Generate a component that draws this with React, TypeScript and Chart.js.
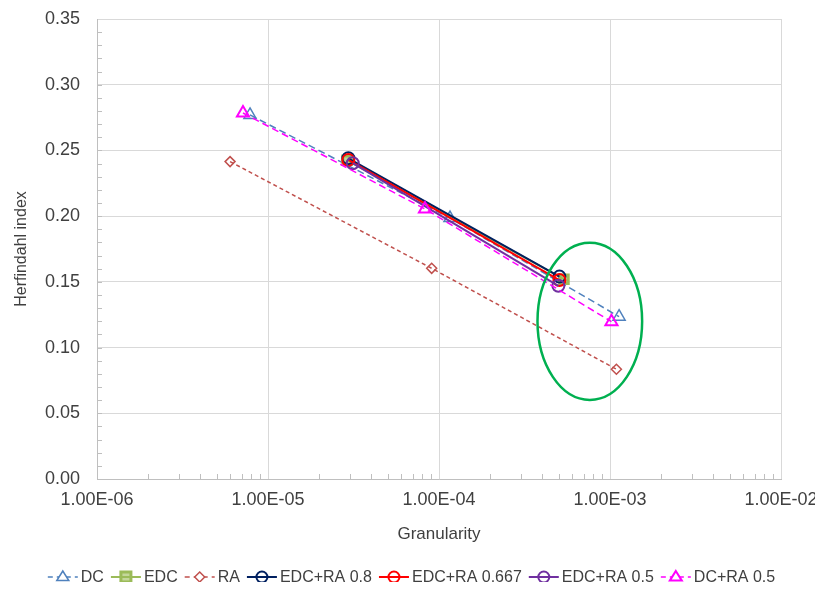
import React, { useEffect, useRef } from "react";
import { Chart, registerables } from "chart.js";
Chart.register(...registerables);

// ---- data ----
const seriesNames = ["DC", "EDC", "RA", "EDC+RA 0.8", "EDC+RA 0.667", "EDC+RA 0.5", "DC+RA 0.5"];
const dcX = [7.85e-6, 1.16e-4, 1.13e-3];
const dcY = [0.277, 0.1985, 0.1235];
const edcX = [2.9e-5, 5.38e-4];
const edcY = [0.2425, 0.152];
const raX = [6.0e-6, 9.06e-5, 1.09e-3];
const raY = [0.2415, 0.1603, 0.0835];
const edcRa08X = [2.95e-5, 5.06e-4];
const edcRa08Y = [0.244, 0.154];
const edcRa0667X = [2.95e-5, 5.06e-4];
const edcRa0667Y = [0.2428, 0.1514];
const edcRa05X = [3.13e-5, 4.99e-4];
const edcRa05Y = [0.2403, 0.147];
const dcRa05X = [7.14e-6, 8.28e-5, 1.02e-3];
const dcRa05Y = [0.2785, 0.2055, 0.1197];

const xTickValues = [1e-6, 1e-5, 1e-4, 1e-3, 1e-2];
const yMin = 0;
const yMax = 0.35;
const yStep = 0.05;
const yMinorStep = 0.01;

// highlighted region (ellipse) in data units
const ellipseCenterX = 7.62e-4;
const ellipseCenterY = 0.12;
const ellipseHalfDecades = 0.306;
const ellipseHalfY = 0.0598;

const FONT = "'Liberation Sans', Arial, sans-serif";
const TEXT = "#404040";

type Style = {
  color: string;
  dash: number[];
  width: number;
  point: string;
  radius: number;
  pw: number;
  fill: string;
};

const styles: Style[] = [
  { color: "#4F81BD", dash: [7, 4], width: 1.5, point: "triangle", radius: 7, pw: 1.5, fill: "rgba(255,255,255,0)" },
  { color: "#9BBB59", dash: [], width: 2, point: "rect", radius: 6, pw: 3, fill: "rgba(155,187,89,0.6)" },
  { color: "#C0504D", dash: [4, 3], width: 1.5, point: "rectRot", radius: 5, pw: 1.5, fill: "rgba(255,255,255,0)" },
  { color: "#002060", dash: [], width: 2, point: "circle", radius: 6, pw: 2, fill: "rgba(255,255,255,0)" },
  { color: "#FF0000", dash: [], width: 2, point: "circle", radius: 6, pw: 2, fill: "rgba(255,255,255,0)" },
  { color: "#7030A0", dash: [], width: 2, point: "circle", radius: 6, pw: 2, fill: "rgba(255,255,255,0)" },
  { color: "#FF00FF", dash: [7, 4], width: 1.5, point: "triangle", radius: 7, pw: 2, fill: "rgba(255,255,255,0)" },
];

const xs = [dcX, edcX, raX, edcRa08X, edcRa0667X, edcRa05X, dcRa05X];
const ys = [dcY, edcY, raY, edcRa08Y, edcRa0667Y, edcRa05Y, dcRa05Y];

function drawMarker(ctx: CanvasRenderingContext2D, s: Style, x: number, y: number) {
  const r = s.point === "triangle" ? 6 : s.point === "circle" ? 5.5 : s.radius;
  ctx.save();
  ctx.setLineDash([]);
  ctx.lineWidth = s.pw;
  ctx.strokeStyle = s.color;
  ctx.fillStyle = s.point === "rect" ? "#C4D79B" : "#ffffff";
  ctx.beginPath();
  if (s.point === "triangle") {
    ctx.moveTo(x, y - r);
    ctx.lineTo(x + r, y + r * 0.6);
    ctx.lineTo(x - r, y + r * 0.6);
    ctx.closePath();
  } else if (s.point === "rect") {
    const h = 5;
    ctx.rect(x - h, y - h, 2 * h, 2 * h);
  } else if (s.point === "rectRot") {
    ctx.moveTo(x, y - r);
    ctx.lineTo(x + r, y);
    ctx.lineTo(x, y + r);
    ctx.lineTo(x - r, y);
    ctx.closePath();
  } else {
    ctx.arc(x, y, r, 0, Math.PI * 2);
  }
  ctx.fill();
  ctx.stroke();
  if (s.point !== "triangle" && s.point !== "rectRot") {
    ctx.beginPath();
    ctx.lineWidth = s.width;
    ctx.moveTo(x - r, y);
    ctx.lineTo(x + r, y);
    ctx.stroke();
  }
  ctx.restore();
}

const extrasPlugin = {
  id: "extras",
  beforeDatasetsDraw(chart: any) {
    const { ctx, chartArea, scales } = chart;
    const xS = scales.x;
    const yS = scales.y;
    ctx.save();
    ctx.strokeStyle = "#bfbfbf";
    ctx.lineWidth = 1;
    for (let d = 0; d < xTickValues.length - 1; d++) {
      for (let k = 2; k <= 9; k++) {
        const px = Math.round(xS.getPixelForValue(xTickValues[d] * k)) + 0.5;
        ctx.beginPath();
        ctx.moveTo(px, chartArea.bottom);
        ctx.lineTo(px, chartArea.bottom - 5);
        ctx.stroke();
      }
    }
    const n = Math.round((yMax - yMin) / yMinorStep);
    for (let i = 1; i < n; i++) {
      const py = Math.round(yS.getPixelForValue(yMin + i * yMinorStep)) + 0.5;
      ctx.beginPath();
      ctx.moveTo(chartArea.left, py);
      ctx.lineTo(chartArea.left + 5, py);
      ctx.stroke();
    }
    ctx.restore();
  },
  afterDatasetsDraw(chart: any) {
    const { ctx, scales } = chart;
    const xS = scales.x;
    const yS = scales.y;
    const cx = xS.getPixelForValue(ellipseCenterX);
    const cy = yS.getPixelForValue(ellipseCenterY);
    const rx = (xS.getPixelForValue(ellipseCenterX * Math.pow(10, ellipseHalfDecades)) - xS.getPixelForValue(ellipseCenterX / Math.pow(10, ellipseHalfDecades))) / 2;
    const ry = Math.abs(yS.getPixelForValue(ellipseCenterY + ellipseHalfY) - yS.getPixelForValue(ellipseCenterY - ellipseHalfY)) / 2;
    ctx.save();
    ctx.strokeStyle = "#00B050";
    ctx.lineWidth = 2.5;
    ctx.beginPath();
    ctx.ellipse(cx, cy, rx, ry, 0, 0, Math.PI * 2);
    ctx.stroke();
    ctx.restore();
  },
  afterDraw(chart: any) {
    const { ctx } = chart;
    ctx.save();
    ctx.font = `16px ${FONT}`;
    ctx.textBaseline = "middle";
    const lineLen = 30;
    const gapText = 3;
    const gapItem = 7;
    const widths = seriesNames.map((n) => ctx.measureText(n).width);
    let total = 0;
    widths.forEach((w, i) => {
      total += lineLen + gapText + w + (i < widths.length - 1 ? gapItem : 0);
    });
    let x = (chart.width - total) / 2;
    const y = 569;
    seriesNames.forEach((name, i) => {
      const s = styles[i];
      ctx.save();
      ctx.strokeStyle = s.color;
      ctx.lineWidth = s.width;
      ctx.setLineDash(s.dash.length ? [5, 4] : []);
      ctx.beginPath();
      ctx.moveTo(x, y);
      ctx.lineTo(x + lineLen, y);
      ctx.stroke();
      ctx.restore();
      drawMarker(ctx, s, x + lineLen / 2, y);
      ctx.fillStyle = TEXT;
      ctx.fillText(name, x + lineLen + gapText, y + 1);
      x += lineLen + gapText + widths[i] + gapItem;
    });
    ctx.restore();
  },
};

function fmtSci(v: number) {
  const e = Math.round(Math.log10(v));
  return `1.00E${e < 0 ? "-" : "+"}${String(Math.abs(e)).padStart(2, "0")}`;
}

export default function App() {
  const ref = useRef<HTMLCanvasElement | null>(null);
  useEffect(() => {
    if (!ref.current) return;
    const n = seriesNames.length;
    const chart = new Chart(ref.current, {
      type: "line",
      data: {
        datasets: seriesNames.map((name, i) => ({
          label: name,
          data: xs[i].map((xv, j) => ({ x: xv, y: ys[i][j] })),
          borderColor: styles[i].color,
          backgroundColor: styles[i].fill,
          borderWidth: styles[i].width,
          borderDash: styles[i].dash,
          pointStyle: styles[i].point as any,
          pointRadius: styles[i].radius,
          pointBorderWidth: styles[i].pw,
          pointBorderColor: styles[i].color,
          pointBackgroundColor: styles[i].fill,
          fill: false,
          tension: 0,
          order: n - i,
        })),
      },
      options: {
        animation: false,
        responsive: false,
        maintainAspectRatio: false,
        layout: { padding: { left: 0, top: 11, right: 34, bottom: 35 } },
        plugins: { legend: { display: false }, tooltip: { enabled: false } },
        scales: {
          x: {
            type: "logarithmic",
            min: 1e-6,
            max: 1e-2,
            afterBuildTicks: (scale: any) => {
              scale.ticks = xTickValues.map((v) => ({ value: v }));
            },
            afterFit: (scale: any) => {
              scale.height = 68;
              scale.paddingLeft = 0;
              scale.paddingRight = 0;
            },
            ticks: {
              callback: (v: any) => fmtSci(Number(v)),
              font: { family: FONT, size: 18 },
              color: TEXT,
              padding: 10,
              maxRotation: 0,
              autoSkip: false,
            },
            grid: { color: "#d9d9d9", lineWidth: 1, drawTicks: false },
            border: { color: "#bfbfbf" },
            title: {
              display: true,
              text: "Granularity",
              font: { family: FONT, size: 17 },
              color: TEXT,
              padding: { top: 0, bottom: 2 },
            },
          },
          y: {
            type: "linear",
            min: yMin,
            max: yMax,
            afterFit: (scale: any) => {
              scale.width = 89;
              scale.paddingTop = 0;
              scale.paddingBottom = 0;
            },
            ticks: {
              stepSize: yStep,
              callback: (v: any) => Number(v).toFixed(2),
              font: { family: FONT, size: 18 },
              color: TEXT,
              padding: 17,
            },
            grid: { color: "#d9d9d9", lineWidth: 1, drawTicks: false },
            border: { color: "#bfbfbf" },
            title: {
              display: true,
              text: "Herfindahl index",
              font: { family: FONT, size: 16 },
              color: TEXT,
              padding: { top: 4, bottom: 0 },
            },
          },
        },
      },
      plugins: [extrasPlugin],
    });
    return () => chart.destroy();
  }, []);
  return (
    <div style={{ width: 807, height: 574 }}>
      <canvas ref={ref} width={807} height={574} style={{ display: "block" }} />
    </div>
  );
}
